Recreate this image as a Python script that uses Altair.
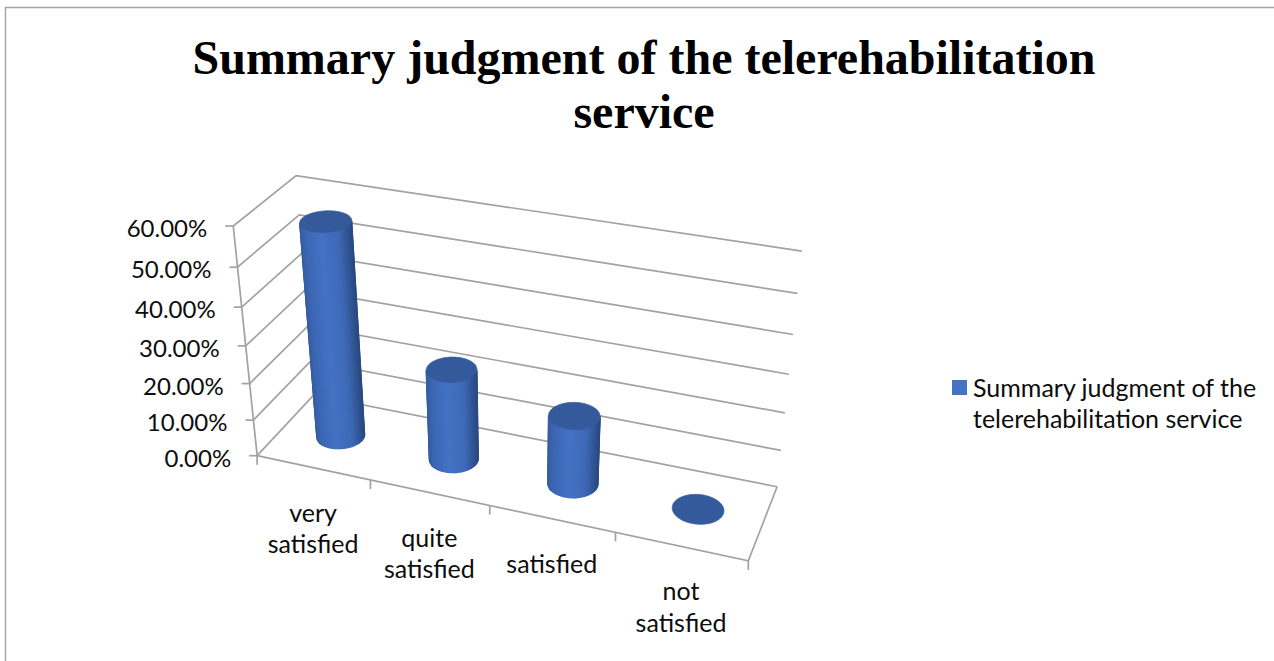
import numpy as np
import pandas as pd
import altair as alt

# Survey results
categories = ["very\nsatisfied", "quite\nsatisfied", "satisfied", "not\nsatisfied"]
shares = [57.0, 24.5, 18.4, 0.0]
y_ticks = [0, 10, 20, 30, 40, 50, 60]
series_name = "Summary judgment of the\ntelerehabilitation service"
title_lines = ["Summary judgment of the telerehabilitation", "service"]

# Perspective camera for the 3D box: (category, value, depth) -> screen
P = np.array([[104.001825, -0.725052, 77.110994, 257.141711],
              [12.210788, -4.144185, -34.579489, 455.698839],
              [-0.025107, -0.0014, 0.065891, 1.0]])


def project(X, Y, Z):
    w = P @ np.array([X, Y, Z, 1.0])
    return float(w[0] / w[2]), float(w[1] / w[2])


RADIUS = 0.195
DEPTH_CENTRE = 0.5
SHADE_STOPS = [(0.0, (52, 92, 160)), (0.12, (60, 102, 178)), (0.42, (68, 114, 196)),
               (0.75, (62, 105, 182)), (1.0, (42, 74, 130))]


def shade(u):
    xs = [s[0] for s in SHADE_STOPS]
    rgb = [np.interp(u, xs, [s[1][k] for s in SHADE_STOPS]) for k in range(3)]
    return "#%02x%02x%02x" % tuple(int(round(c)) for c in rgb)


def circle(i, value, theta):
    return (i + 0.5 + RADIUS * np.cos(theta), value, DEPTH_CENTRE + RADIUS * np.sin(theta))


# Box outline and gridlines
lines = []
def add_line(name, pts):
    for k, (x, y) in enumerate(pts):
        lines.append({"line": name, "k": k, "x": x, "y": y})

for t in y_ticks:
    add_line(f"grid{t}", [project(0, t, 0), project(0, t, 1), project(4, t, 1)])
    fx, fy = project(0, t, 0)
    add_line(f"ytick{t}", [(fx - 8, fy), (fx, fy)])
add_line("yaxis", [project(0, 0, 0), project(0, 60, 0)])
add_line("floor", [project(0, 0, 0), project(4, 0, 0), project(4, 0, 1)])
for i in range(5):
    fx, fy = project(i, 0, 0)
    add_line(f"xtick{i}", [(fx, fy), (fx, fy + 9)])
grid_df = pd.DataFrame(lines)

frame_df = pd.DataFrame([{"line": "frame", "k": 0, "x": 5.5, "y": 661},
                         {"line": "frame", "k": 1, "x": 5.5, "y": 7.5},
                         {"line": "frame", "k": 2, "x": 1274, "y": 7.5}])

# Cylinder bodies as shaded facets, caps as ellipses
facets, caps = [], []
ang = np.linspace(0, 2 * np.pi, 241)
for i, value in enumerate(shares):
    mid = value / 2
    xs = np.array([project(*circle(i, mid, a))[0] for a in ang])
    a_left, a_right = ang[xs.argmin()], ang[xs.argmax()]
    if a_right < a_left:
        a_right += 2 * np.pi
    front = np.linspace(a_left, a_right, 37)
    if np.mean([circle(i, 0, a)[2] for a in front]) > DEPTH_CENTRE:
        front = np.linspace(a_left, a_right - 2 * np.pi, 37)
    if value > 0:
        xl, xr = xs.min(), xs.max()
        for n in range(len(front) - 1):
            a0, a1 = front[n], front[n + 1]
            u = (project(*circle(i, mid, (a0 + a1) / 2))[0] - xl) / (xr - xl)
            col = shade(u)
            quad = [project(*circle(i, 0, a0)), project(*circle(i, value, a0)),
                    project(*circle(i, value, a1)), project(*circle(i, 0, a1))]
            for k, (x, y) in enumerate(quad + quad[:1]):
                facets.append({"facet": f"{i}-{n}", "k": k, "x": x, "y": y, "col": col})
    for k, a in enumerate(np.linspace(0, 2 * np.pi, 73)):
        x, y = project(*circle(i, value, a))
        caps.append({"cap": i, "k": k, "x": x, "y": y})
facet_df = pd.DataFrame(facets)
cap_df = pd.DataFrame(caps)

# Text tables
ytick_df = pd.DataFrame([{"x": project(0, t, 0)[0], "y": project(0, t, 0)[1], "label": f"{t:.2f}%"} for t in y_ticks])
cat_df = pd.DataFrame([{"x": project(i + 0.5, 0, 0)[0], "y": project(i + 0.5, 0, 0)[1], "label": c}
                       for i, c in enumerate(categories)])
legend_key = pd.DataFrame([{"x": 959.5, "y": 387.5}])
legend_text = pd.DataFrame([{"x": 973, "y": 388.5, "label": series_name}])

X = alt.X("x:Q", scale=alt.Scale(domain=[0, 1274], nice=False, zero=False), axis=None)
Y = alt.Y("y:Q", scale=alt.Scale(domain=[661, 0], nice=False, zero=False), axis=None)
FONT = "Lato"
INK = "#0d0d0d"

frame = alt.Chart(frame_df).mark_line(color="#a3a3a3", strokeWidth=1.4).encode(X, Y, order="k:Q", detail="line:N")
grid = alt.Chart(grid_df).mark_line(color="#a2a2a2", strokeWidth=1.7).encode(X, Y, order="k:Q", detail="line:N")
body = alt.Chart(facet_df).mark_line(strokeWidth=1.3).encode(
    X, Y, order="k:Q", detail="facet:N",
    fill=alt.Fill("col:N", scale=None), stroke=alt.Stroke("col:N", scale=None))
cap = alt.Chart(cap_df).mark_line(fill="#355a9b", stroke="#355a9b", strokeWidth=0.7).encode(
    X, Y, order="k:Q", detail="cap:N")
ylabels = alt.Chart(ytick_df).mark_text(align="right", baseline="middle", dx=-26, dy=4, font=FONT, fontSize=24, color=INK).encode(
    X, Y, text="label:N")
xlabels = alt.Chart(cat_df).mark_text(align="center", baseline="top", dy=34, lineBreak="\n", lineHeight=31.5,
                                      font=FONT, fontSize=25, color=INK).encode(X, Y, text="label:N")
key = alt.Chart(legend_key).mark_square(size=225, color="#4472c4", opacity=1).encode(X, Y)
ltext = alt.Chart(legend_text).mark_text(align="left", baseline="top", lineBreak="\n", lineHeight=31.5,
                                         font=FONT, fontSize=25, color=INK, dy=-12).encode(X, Y, text="label:N")

chart = alt.layer(frame, grid, body, cap, ylabels, xlabels, key, ltext).properties(
    width=1274, height=661, padding=0, autosize=alt.AutoSizeParams(type="none"),
    background="white",
    title=alt.TitleParams(text=title_lines, font="Liberation Serif", fontSize=48, fontWeight="bold",
                          color="#000000", lineHeight=54, anchor="middle", baseline="top",
                          offset=0, dy=138, dx=7),
).configure_view(stroke=None)

chart.save("out.html", embed_options={"renderer": "svg", "actions": False})
